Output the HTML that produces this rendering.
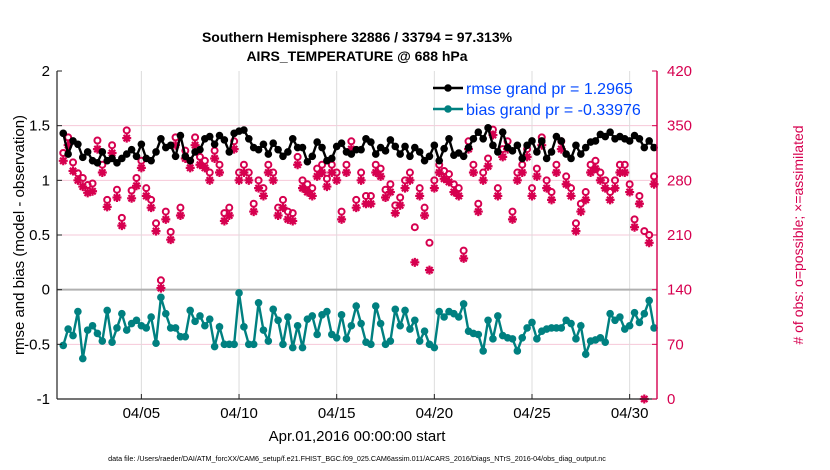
<!DOCTYPE html>
<html><head><meta charset="utf-8"><style>
body{margin:0;background:#fff;}
svg{display:block;font-family:"Liberation Sans",sans-serif;}
</style></head><body>
<svg id="c" width="830" height="470" xmlns="http://www.w3.org/2000/svg">
<text x="357" y="42" text-anchor="middle" font-size="14" font-weight="bold">Southern Hemisphere 32886 / 33794 = 97.313%</text>
<text x="357" y="61" text-anchor="middle" font-size="14" font-weight="bold">AIRS_TEMPERATURE @ 688 hPa</text>
<g id="grid"></g>
<g id="marks"></g>
<g id="axes"></g>
<text x="357" y="441" text-anchor="middle" font-size="15">Apr.01,2016 00:00:00 start</text>
<text transform="translate(24,235) rotate(-90)" text-anchor="middle" font-size="15">rmse and bias (model - observation)</text>
<text transform="translate(803,235) rotate(-90)" text-anchor="middle" font-size="14" fill="#d6004f"># of obs: o=possible; ×=assimilated</text>
<text x="357" y="461" text-anchor="middle" font-size="7.2">data file: /Users/raeder/DAI/ATM_forcXX/CAM6_setup/f.e21.FHIST_BGC.f09_025.CAM6assim.011/ACARS_2016/Diags_NTrS_2016-04/obs_diag_output.nc</text>
<g>
<line x1="433" y1="88" x2="463" y2="88" stroke="#000" stroke-width="2.5"/><circle cx="448" cy="88" r="3.8" fill="#000"/>
<text x="466" y="94" font-size="16" fill="#0047ff">rmse grand pr = 1.2965</text>
<line x1="433" y1="109" x2="463" y2="109" stroke="#008080" stroke-width="2.5"/><circle cx="448" cy="109" r="3.8" fill="#008080"/>
<text x="466" y="115" font-size="16" fill="#0047ff">bias grand pr = -0.33976</text>
</g>
</svg>
<script>
const rmse=[1.43,1.24,1.36,1.33,1.21,1.26,1.18,1.16,1.26,1.18,1.20,1.16,1.20,1.24,1.28,1.22,1.33,1.20,1.18,1.26,1.38,1.30,1.32,1.22,1.41,1.22,1.18,1.26,1.28,1.38,
1.40,1.33,1.41,1.37,1.26,1.43,1.45,1.46,1.38,1.30,1.28,1.33,1.24,1.34,1.28,1.22,1.26,1.38,1.30,1.30,1.17,1.22,1.35,1.30,1.18,1.20,1.31,1.34,1.26,1.24,
1.28,1.28,1.38,1.35,1.24,1.30,1.27,1.37,1.31,1.24,1.31,1.22,1.30,1.26,1.18,1.22,1.32,1.18,1.29,1.38,1.23,1.25,1.22,1.30,1.38,1.44,1.38,1.48,1.32,1.26,
1.44,1.30,1.27,1.32,1.20,1.32,1.36,1.26,1.36,1.20,1.26,1.40,1.36,1.24,1.20,1.32,1.24,1.30,1.35,1.36,1.42,1.40,1.44,1.38,1.40,1.38,1.36,1.41,1.38,1.30,1.36,1.30];
const bias=[-0.51,-0.36,-0.42,-0.20,-0.63,-0.37,-0.33,-0.40,-0.47,-0.19,-0.48,-0.35,-0.22,-0.37,-0.31,-0.28,-0.33,-0.35,-0.25,-0.49,-0.07,-0.22,-0.35,-0.35,-0.43,-0.43,-0.19,-0.29,-0.24,-0.33,
-0.27,-0.52,-0.34,-0.50,-0.50,-0.50,-0.03,-0.34,-0.50,-0.50,-0.12,-0.37,-0.47,-0.18,-0.28,-0.50,-0.25,-0.53,-0.33,-0.53,-0.27,-0.24,-0.41,-0.23,-0.20,-0.41,-0.44,-0.23,-0.45,-0.33,
-0.15,-0.31,-0.48,-0.50,-0.15,-0.31,-0.50,-0.47,-0.18,-0.33,-0.19,-0.36,-0.28,-0.47,-0.38,-0.50,-0.53,-0.20,-0.25,-0.20,-0.22,-0.25,-0.13,-0.38,-0.40,-0.41,-0.56,-0.28,-0.45,-0.24,
-0.42,-0.44,-0.45,-0.56,-0.44,-0.35,-0.30,-0.45,-0.38,-0.36,-0.35,-0.35,-0.35,-0.28,-0.31,-0.45,-0.33,-0.59,-0.47,-0.46,-0.44,-0.48,-0.22,-0.28,-0.25,-0.36,-0.33,-0.21,-0.30,-0.22,-0.10,-0.35];
const possible=[315,335,303,289,283,274,276,331,300,255,325,268,232,344,267,283,305,270,255,225,152,240,214,335,245,318,305,335,310,305,
290,318,300,238,245,330,290,300,290,250,280,270,300,290,245,255,240,238,310,280,275,270,295,300,282,300,290,240,300,330,
255,290,260,260,300,295,268,275,248,258,280,290,220,270,245,200,280,300,292,288,275,270,190,330,300,250,290,308,345,270,
320,330,240,290,300,320,270,295,335,280,265,300,330,285,270,225,250,265,300,305,290,280,265,280,300,300,275,230,260,215,210,285];
const assimilated=[305,325,292,280,272,264,266,320,290,246,315,258,222,334,257,273,296,260,245,215,142,230,204,325,235,308,296,325,300,296,
280,308,290,228,235,320,280,290,280,240,270,260,290,280,235,245,230,228,300,270,265,260,285,290,272,290,280,230,290,320,
245,280,250,250,290,285,258,265,238,248,270,280,175,260,235,165,270,290,282,278,265,260,180,320,290,240,280,298,338,260,
310,320,230,280,290,310,260,285,325,270,255,290,320,275,260,215,240,255,290,295,280,270,255,270,290,290,265,220,250,0,200,275];
const dateTicks=["04/05","04/10","04/15","04/20","04/25","04/30"];
const dateTickDays=[5,10,15,20,25,30];
const leftTicks=[2,1.5,1,0.5,0,-0.5,-1];
const rightTicks=[420,350,280,210,140,70,0];

const NS="http://www.w3.org/2000/svg";
const X0=57,X1=657,Y0=71,Y1=399;
const dayMin=0.68, dayMax=31.4;
function xDay(d){return X0+(d-dayMin)/(dayMax-dayMin)*(X1-X0);}
function xIdx(i){return xDay(1+i*0.25);}
function yL(v){return Y1-(v+1)/3*(Y1-Y0);}
function yR(v){return Y1-v/420*(Y1-Y0);}
function mk(tag,attrs,parent){const e=document.createElementNS(NS,tag);for(const k in attrs)e.setAttribute(k,attrs[k]);parent.appendChild(e);return e;}
const grid=document.getElementById('grid'),marks=document.getElementById('marks'),axes=document.getElementById('axes');

rightTicks.forEach(t=>{if(t>0&&t<420&&t!==140){const l=mk('line',{x1:X0,x2:X1,y1:yR(t),y2:yR(t),stroke:'#f6c8d8','stroke-width':1},grid);

}});
dateTickDays.forEach(d=>{const l=mk('line',{x1:xDay(d),x2:xDay(d),y1:Y0,y2:Y1,stroke:'#dcdcdc','stroke-width':1},grid);

});
const zl=mk('line',{x1:X0,x2:X1,y1:yL(0),y2:yL(0),stroke:'#b0b0b0','stroke-width':2},grid);



// obs counts
possible.forEach((v,i)=>{const c=mk('circle',{cx:xIdx(i),cy:yR(v),r:3,fill:'none',stroke:'#d6004f','stroke-width':2},marks);

});
assimilated.forEach((v,i)=>{const x=xIdx(i),y=yR(v),r=4.5;
const d=`M${x-r},${y}H${x+r}M${x},${y-r}V${y+r}M${x-r*0.7},${y-r*0.7}L${x+r*0.7},${y+r*0.7}M${x-r*0.7},${y+r*0.7}L${x+r*0.7},${y-r*0.7}`;
const p=mk('path',{d:d,stroke:'#d6004f','stroke-width':2.2,fill:'none'},marks);

});

function series(arr,color,name){
 const p=mk('polyline',{points:arr.map((v,i)=>xIdx(i)+','+yL(v)).join(' '),fill:'none',stroke:color,'stroke-width':2.4},marks);
 
 
 arr.forEach((v,i)=>{const c=mk('circle',{cx:xIdx(i),cy:yL(v),r:3.8,fill:color},marks);
 
 });
}
series(rmse,'#000','rmse');
series(bias,'#008080','bias');

const la=mk('line',{x1:X0,x2:X0,y1:Y0,y2:Y1,stroke:'#222','stroke-width':1.2},axes);


const ba=mk('line',{x1:X0,x2:X1,y1:Y1,y2:Y1,stroke:'#222','stroke-width':1.2},axes);


const ra=mk('line',{x1:X1,x2:X1,y1:Y0,y2:Y1,stroke:'#d6004f','stroke-width':1.4},axes);


leftTicks.forEach(t=>{mk('line',{x1:X0,x2:X0+5,y1:yL(t),y2:yL(t),stroke:'#222'},axes);
const tx=mk('text',{x:X0-7,y:yL(t)+5,'text-anchor':'end','font-size':15},axes);tx.textContent=t;

});
rightTicks.forEach(t=>{mk('line',{x1:X1-5,x2:X1,y1:yR(t),y2:yR(t),stroke:'#d6004f'},axes);
const tx=mk('text',{x:X1+10,y:yR(t)+5,'font-size':15,fill:'#d6004f'},axes);tx.textContent=t;

});
dateTicks.forEach((t,k)=>{const x=xDay(dateTickDays[k]);mk('line',{x1:x,x2:x,y1:Y1,y2:Y1-5,stroke:'#222'},axes);
const tx=mk('text',{x:x,y:Y1+19,'text-anchor':'middle','font-size':15},axes);tx.textContent=t;

});
</script>
</body></html>
